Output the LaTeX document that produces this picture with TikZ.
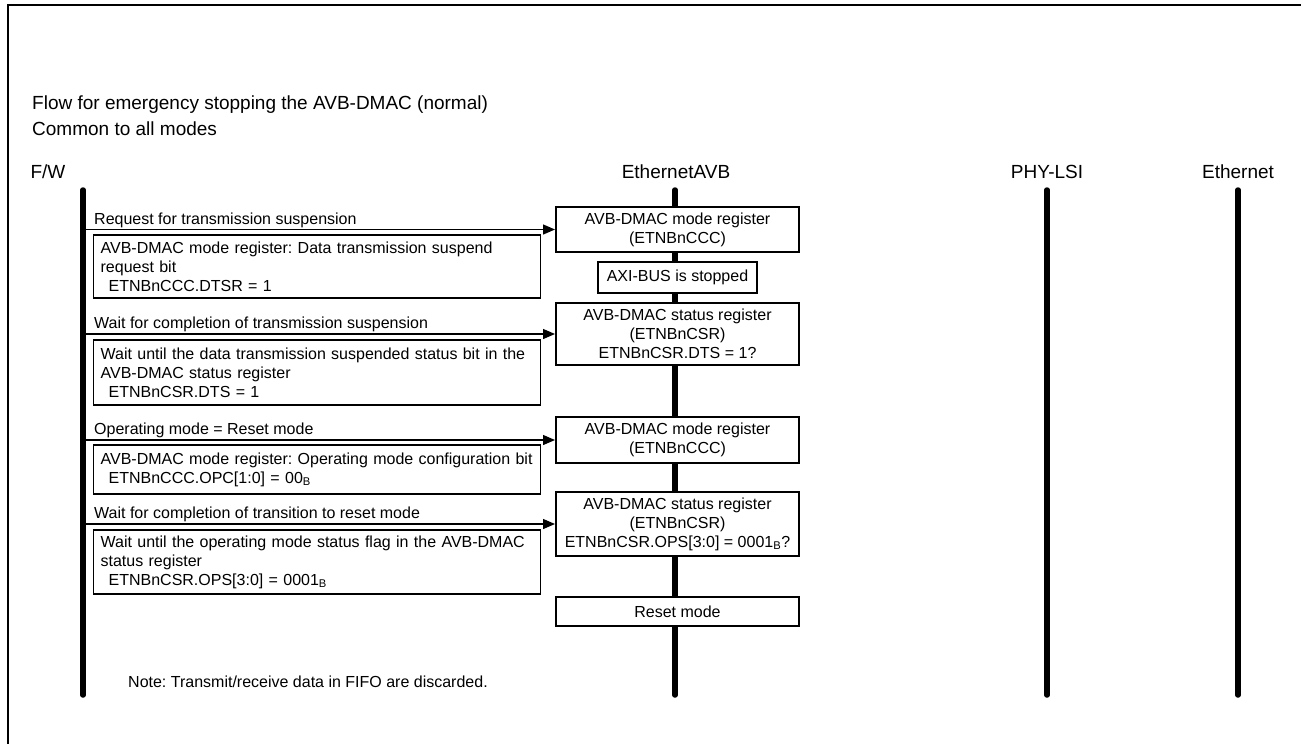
\documentclass[tikz,border=0pt]{standalone}
\usepackage{fontspec}
\setmainfont{Liberation Sans}
\usetikzlibrary{arrows.meta,calc}
\begin{document}
\frenchspacing
\begin{tikzpicture}[x=1pt,y=-1pt,
  body/.style={font=\fontsize{16}{19}\selectfont},
  head/.style={font=\fontsize{19}{24}\selectfont},
  life/.style={line width=5.5pt,line cap=round},
  rbox/.style={draw,line width=2pt,fill=white,minimum width=243pt,align=center,inner sep=0pt,body},
  lbox/.style={draw,line width=1.3pt,fill=white,text width=433pt,inner xsep=7pt,inner ysep=0pt,align=left,body},
  arr/.style={line width=1.3pt,-{Triangle[length=12pt,width=10pt]}},
  msg/.style={anchor=base west,inner sep=0pt,body}]
\useasboundingbox (0,0) rectangle (1301,744);
\draw[line width=2pt] (8,744) -- (8,5) -- (1301,5);

% title
\node[anchor=base west,inner sep=0pt,head] (title1) at (32,109) {Flow for emergency stopping the AVB-DMAC (normal)};
\node[anchor=base west,inner sep=0pt,head] (title2) at (32,135) {Common to all modes};

% lifeline heads
\node[head,inner sep=0pt] (fwh) at (48,172) {F/W};
\node[head,inner sep=0pt] (avbh) at (676,172) {EthernetAVB};
\node[head,inner sep=0pt] (phyh) at (1047,172) {PHY-LSI};
\node[head,inner sep=0pt] (ethh) at (1238,172) {Ethernet};

\coordinate (fwt) at (83,190);  \coordinate (fwb) at (83,695);
\coordinate (avbt) at (675,190); \coordinate (avbb) at (675,695);
\coordinate (phyt) at (1047,190); \coordinate (phyb) at (1047,695);
\coordinate (etht) at (1238,190); \coordinate (ethb) at (1238,695);
\draw[life] (fwt) -- (fwb);
\draw[life] (avbt) -- (avbb);
\draw[life] (phyt) -- (phyb);
\draw[life] (etht) -- (ethb);

% EthernetAVB boxes
\node[rbox,minimum height=45pt] (b1) at (677.5,229.5) {AVB-DMAC mode register\\(ETNBnCCC)};
\node[rbox,minimum width=159pt,minimum height=31pt] (axi) at (677.5,277.5) {AXI-BUS is stopped};
\node[rbox,minimum height=62pt] (b2) at (677.5,334) {AVB-DMAC status register\\(ETNBnCSR)\\ETNBnCSR.DTS = 1?};
\node[rbox,minimum height=46pt] (b3) at (677.5,440) {AVB-DMAC mode register\\(ETNBnCCC)};
\node[rbox,minimum height=64pt] (b4) at (677.5,524) {AVB-DMAC status register\\(ETNBnCSR)\\ETNBnCSR.OPS[3:0] = 0001\textsubscript{B}?};
\node[rbox,minimum height=29pt] (b5) at (677.5,611.5) {Reset mode};

% messages
\draw[arr] (fwt |- b1.west) -- (b1.west);
\node[msg] (m1) at (94,224) {Request for transmission suspension};
\draw[arr] (fwt |- b2.west) -- (b2.west);
\node[msg] (m2) at (94,328) {Wait for completion of transmission suspension};
\draw[arr] (fwt |- b3.west) -- (b3.west);
\node[msg] (m3) at (94,434) {Operating mode = Reset mode};
\draw[arr] (fwt |- b4.west) -- (b4.west);
\node[msg] (m4) at (94,518) {Wait for completion of transition to reset mode};

% F/W notes
\node[lbox,minimum height=63pt,anchor=west] (n1) at (93,266.5) {AVB-DMAC mode register: Data transmission suspend\\request bit\\\hspace*{8pt}ETNBnCCC.DTSR = 1};
\node[lbox,minimum height=65pt,anchor=west] (n2) at (93,372.5) {Wait until the data transmission suspended status bit in the\\AVB-DMAC status register\\\hspace*{8pt}ETNBnCSR.DTS = 1};
\node[lbox,minimum height=49pt,anchor=west] (n3) at (93,469.5) {AVB-DMAC mode register: Operating mode configuration bit\\\hspace*{8pt}ETNBnCCC.OPC[1:0] = 00\textsubscript{B}};
\node[lbox,minimum height=64pt,anchor=west] (n4) at (93,562) {Wait until the operating mode status flag in the AVB-DMAC\\status register\\\hspace*{8pt}ETNBnCSR.OPS[3:0] = 0001\textsubscript{B}};

\node[msg] (note) at (128,687) {Note: Transmit/receive data in FIFO are discarded.};
\end{tikzpicture}
\end{document}
